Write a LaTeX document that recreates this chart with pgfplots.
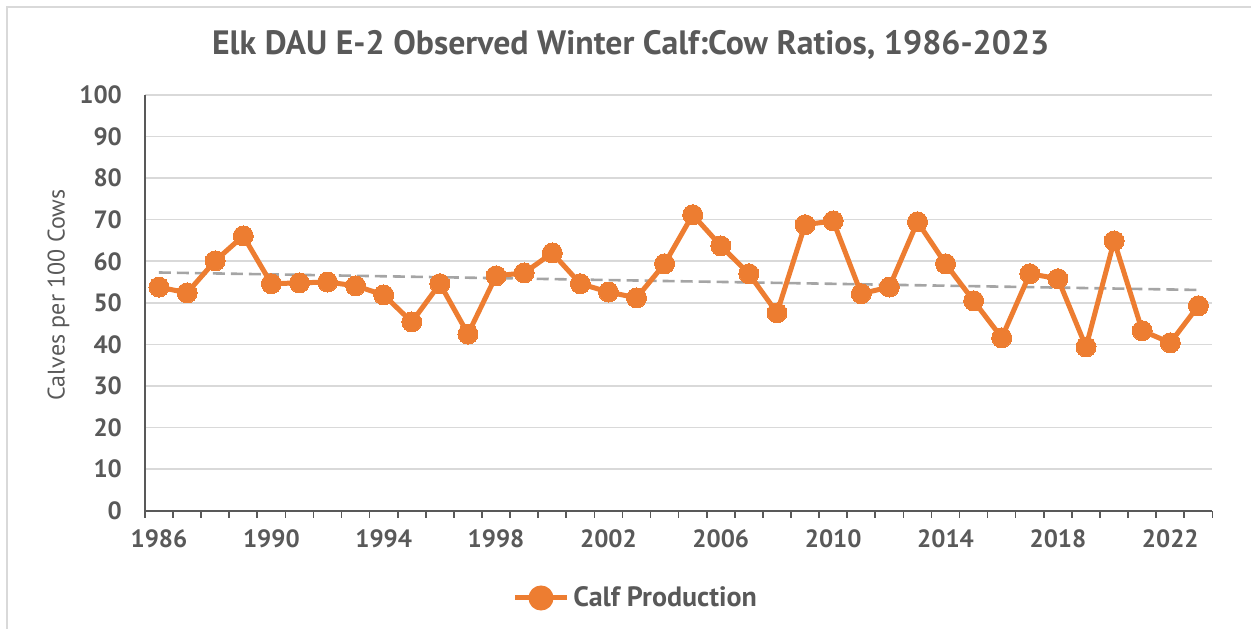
\documentclass[border=0pt]{standalone}
\usepackage{fontspec}
\setmainfont{PT Sans}
\usepackage{pgfplots}
\pgfplotsset{compat=1.18}
\definecolor{calf}{HTML}{ED7D31}
\definecolor{txt}{HTML}{595959}
\definecolor{gridc}{HTML}{D9D9D9}
\definecolor{trend}{HTML}{A5A5A5}

\pgfplotstableread{
year ratio
1986 53.8
1987 52.4
1988 60.1
1989 66.1
1990 54.6
1991 54.8
1992 55.0
1993 54.1
1994 51.9
1995 45.4
1996 54.6
1997 42.5
1998 56.5
1999 57.2
2000 62.0
2001 54.6
2002 52.6
2003 51.2
2004 59.4
2005 71.2
2006 63.7
2007 57.0
2008 47.6
2009 68.8
2010 69.7
2011 52.2
2012 53.8
2013 69.5
2014 59.4
2015 50.5
2016 41.6
2017 57.0
2018 55.8
2019 39.4
2020 64.9
2021 43.3
2022 40.4
2023 49.3
}\calfdata

\begin{document}
\begin{tikzpicture}
% page frame, 1 px of the reference = 0.5pt
\path (0,0) rectangle (626pt,314.5pt);
\draw[gridc, line width=0.6pt] (3.5pt,0) -- (3.5pt,311pt) -- (626pt,311pt);
\node[txt, font=\fontsize{16.9}{20}\selectfont\bfseries] at (315.5pt,292pt)
  {Elk DAU E-2 Observed Winter Calf:Cow Ratios, 1986-2023};
\begin{axis}[
  at={(72.5pt,59pt)}, anchor=south west,
  scale only axis, width=534pt, height=208pt,
  xmin=1985.5, xmax=2023.5, ymin=0, ymax=100,
  axis x line=bottom, axis y line=left,
  axis line style={-, txt, line width=1pt},
  xtick={1986,1990,...,2022},
  minor xtick={1985.5,1986.5,...,2023.5},
  major tick length=0pt, minor tick length=3.5pt,
  tick align=outside,
  tick style={txt, line width=0.8pt},
  ytick={0,10,...,100},
  ymajorgrids, grid style={gridc, line width=0.8pt},
  xticklabel style={yshift=-6pt},
  yticklabel style={xshift=-8pt},
  /pgf/number format/1000 sep={},
  /pgf/number format/assume math mode=true,
  ticklabel style={txt, font=\fontsize{12.5}{15}\selectfont\bfseries},
  ylabel={Calves per 100 Cows},
  every axis y label/.style={at={(axis description cs:-0.081,0.519)}, rotate=90,
    anchor=center, txt, font=\fontsize{12}{14}\selectfont},
  legend style={at={(0.5,-0.162)}, anchor=north, xshift=-21pt, draw=none, fill=none,
    font=\fontsize{14}{16}\selectfont\bfseries, text=txt},
  legend image code/.code={
    \draw[#1] (0pt,0pt) -- (26pt,0pt);
    \fill[calf] (13pt,0pt) circle (5pt);},
  clip=false,
]
\addplot[trend, dashed, dash pattern=on 6pt off 3pt, line width=1.3pt, forget plot]
  coordinates {(1986,57.3) (2023,53.1)};
\addplot[calf, line width=2.5pt, mark=*, mark size=5pt,
  mark options={fill=calf, draw=calf, line width=0pt}]
  table[x=year, y=ratio] {\calfdata};
\addlegendentry{Calf Production}
\end{axis}
\end{tikzpicture}
\end{document}
